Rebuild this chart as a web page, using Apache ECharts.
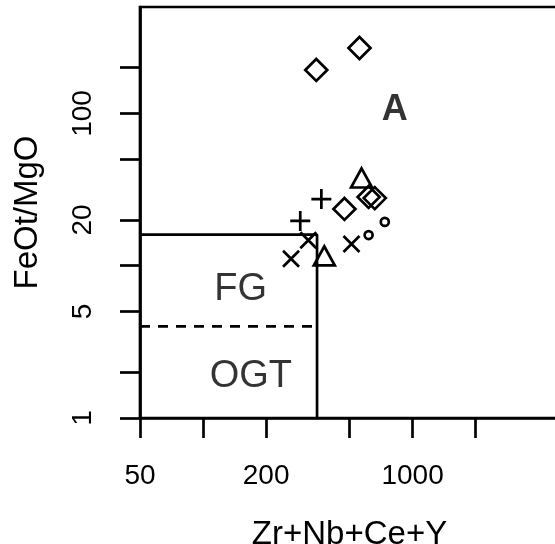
<!DOCTYPE html>
<html>
<head>
<meta charset="UTF-8">
<script src="https://cdn.jsdelivr.net/npm/echarts@6/dist/echarts.min.js"></script>
<style>
  html, body { margin: 0; padding: 0; background: #fff; }
  #chart { width: 555px; height: 544px; }
</style>
</head>
<body>
<div id="chart"></div>
<script>
// points: [Zr+Nb+Ce+Y, FeOt/MgO]
var diamonds = [[558, 269], [347, 193], [617, 28.3], [660, 27.8], [473, 23.6]];
var triangles = [[571, 37.7], [379, 11.6]];
var pluses = [[367, 27.4], [291, 19.7]];
var crosses = [[318, 14.7], [511, 13.9], [263, 11.1]];
var circles = [[737, 19.4], [617, 15.9]];

// field boundaries
var boundSolid = [[50, 16], [350, 16], [350, 1]];
var boundDashed = [[50, 4], [350, 4]];

// field names and where they sit
var fieldNames = ['A', 'FG', 'OGT'];
var fieldPos = [[823, 105], [151, 7.0], [169, 1.86]];

var xTicks = [50, 100, 200, 500, 1000, 2000];
var xLabels = [50, 200, 1000];
var yTicks = [1, 2, 5, 10, 20, 50, 100, 200];
var yLabels = [1, 5, 20, 100];

var FONT = 'Liberation Sans, Arial, Helvetica, sans-serif';
var LW = 2.7;

function pts(name, data, symbol, size) {
  return {
    name: name,
    type: 'scatter',
    data: data,
    symbol: symbol,
    symbolSize: size,
    itemStyle: { color: 'rgba(0,0,0,0)', borderColor: '#000', borderWidth: LW, opacity: 1 },
    emphasis: { disabled: true },
    z: 5
  };
}

function plain(v) { return String(Math.round(v)); }

var chart = echarts.init(document.getElementById('chart'));
var option = {
  animation: false,
  backgroundColor: '#fff',
  grid: {
    left: 140, top: 7, width: 419, height: 411,
    outerBoundsMode: 'none',
    show: true, borderColor: '#000', borderWidth: LW, backgroundColor: 'rgba(0,0,0,0)'
  },
  xAxis: {
    type: 'log', logBase: 10, min: 50, max: 5000,
    name: 'Zr+Nb+Ce+Y', nameLocation: 'middle', nameGap: 100,
    nameTextStyle: { color: '#000', fontSize: 33, fontFamily: FONT },
    axisLine: { show: true, lineStyle: { color: '#000', width: LW } },
    axisTick: { show: true, length: 20, customValues: xTicks, lineStyle: { color: '#000', width: LW } },
    axisLabel: { customValues: xLabels, formatter: plain, margin: 44, color: '#000', fontSize: 28, fontFamily: FONT },
    splitLine: { show: false }
  },
  yAxis: {
    type: 'log', logBase: 10, min: 1, max: 500,
    name: 'FeOt/MgO', nameLocation: 'middle', nameGap: 96,
    nameTextStyle: { color: '#000', fontSize: 33, fontFamily: FONT },
    axisLine: { show: true, lineStyle: { color: '#000', width: LW } },
    axisTick: { show: true, length: 20, customValues: yTicks, lineStyle: { color: '#000', width: LW } },
    axisLabel: { customValues: yLabels, formatter: plain, rotate: 90, margin: 43, color: '#000', fontSize: 28, fontFamily: FONT },
    splitLine: { show: false }
  },
  series: [
    {
      type: 'line', data: boundSolid, symbol: 'none', silent: true,
      lineStyle: { color: '#000', width: LW }, z: 3
    },
    {
      type: 'line', data: boundDashed, symbol: 'none', silent: true,
      lineStyle: { color: '#000', width: LW, type: [10, 8] }, z: 3
    },
    pts('diamond', diamonds, 'diamond', 22),
    pts('triangle', triangles, 'triangle', [21, 19]),
    pts('plus', pluses, 'path://M-1,0L1,0M0,-1L0,1', 20),
    pts('cross', crosses, 'path://M-1,-1L1,1M-1,1L1,-1', 16),
    pts('circle', circles, 'circle', 8),
    {
      type: 'scatter', symbolSize: 1, silent: true, z: 6,
      itemStyle: { color: 'rgba(0,0,0,0)' },
      data: fieldNames.map(function (n, i) {
        return {
          name: n, value: fieldPos[i],
          label: {
            color: '#000',
            fontWeight: n === 'A' ? 'bold' : 'normal',
            fontSize: n === 'A' ? 36 : 38
          }
        };
      }),
      label: {
        show: true, position: 'inside', formatter: '{b}',
        color: '#000', fontFamily: FONT
      }
    }
  ]
};
chart.setOption(option);
</script>
</body>
</html>
